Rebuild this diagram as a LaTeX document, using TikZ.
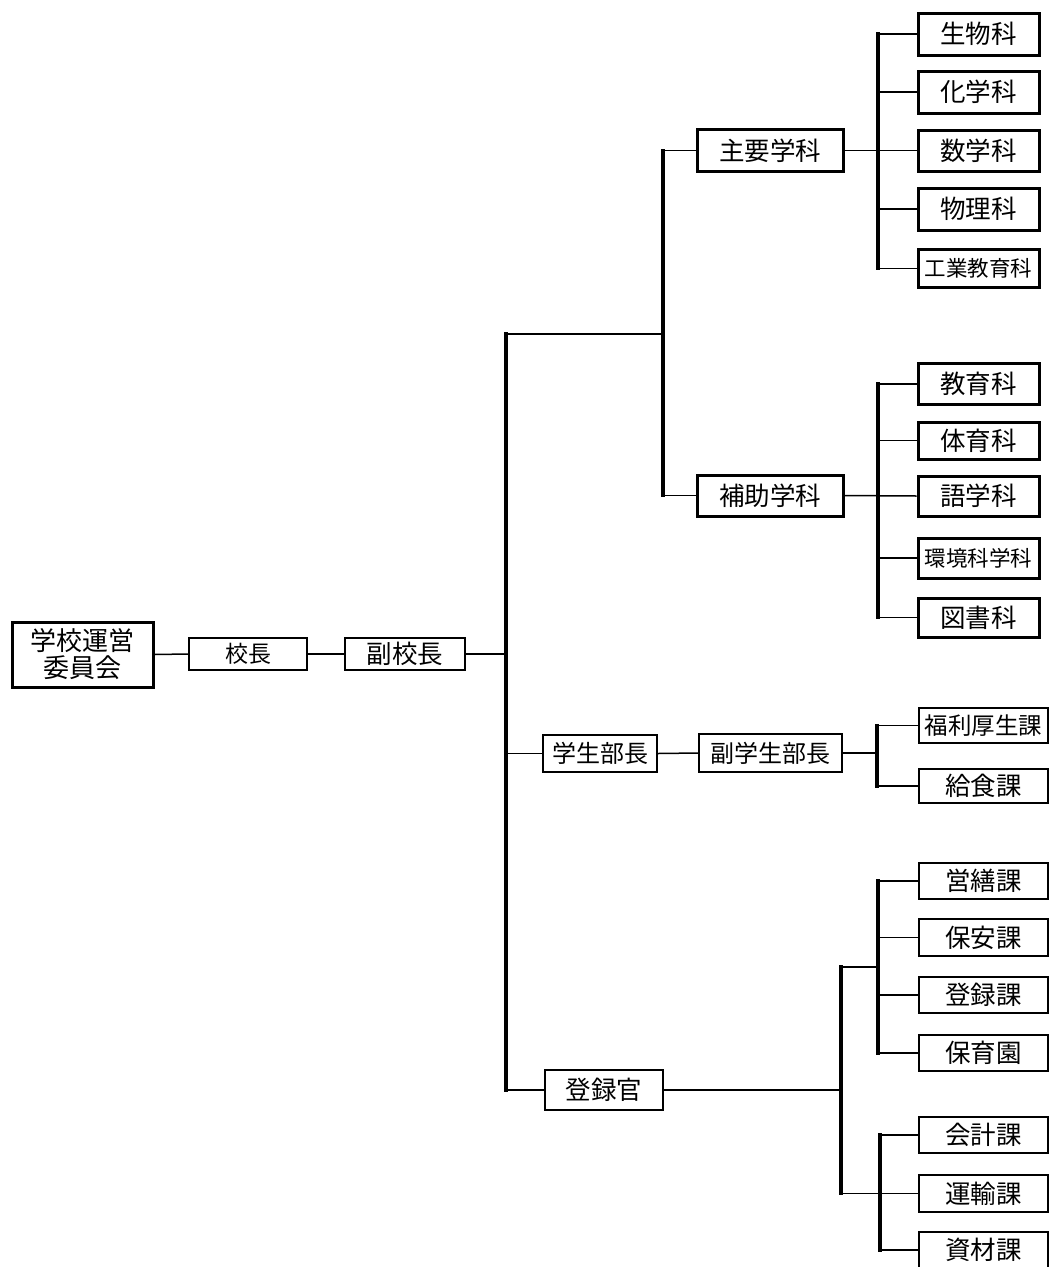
\documentclass[tikz,border=0pt]{standalone}
\usepackage{fontspec}
\newfontfamily\jp{Noto Sans CJK JP}
\begin{document}
\begin{tikzpicture}[x=1pt,y=-1pt,
  basebox/.style={draw=black, fill=white, inner sep=0pt, anchor=center,
    font=\jp\fontsize{25.5}{28}\selectfont, text=black},
  heavybox/.style={basebox, line width=3pt},
  lightbox/.style={basebox, line width=1.9pt},
  subj/.style={heavybox, minimum width=121pt},
  sect/.style={lightbox, minimum width=129pt},
  smalltext/.style={font=\jp\fontsize{21.5}{24}\selectfont},
  link/.style={line width=1.5pt},
  bus/.style={line width=3.4pt, line cap=rect}]
\useasboundingbox (0,0) rectangle (1050,1267);
\clip (0,0) rectangle (1050,1267);
\fill[white] (0,0) rectangle (1050,1267);

% --- left chain ---
\node[heavybox, minimum width=141pt, minimum height=65pt, align=center,
      font=\jp\fontsize{26}{27}\selectfont] (comm) at (82.5,654.5) {学校運営\\委員会};
\node[lightbox, minimum width=118pt, minimum height=32pt, font=\jp\fontsize{23}{26}\selectfont] (kocho) at (248,654) {校長};
\node[lightbox, minimum width=120pt, minimum height=32pt] (fuku) at (405,654) {副校長};

% --- departments ---
\node[heavybox, minimum width=146pt, minimum height=42pt] (shuyo) at (770,150.5) {主要学科};
\node[heavybox, minimum width=146pt, minimum height=41pt] (hojo) at (770,495.5) {補助学科};

% main subjects
\node[subj, minimum height=42pt] (s1) at (978.5,34) {生物科};
\node[subj, minimum height=42pt] (s2) at (978.5,92) {化学科};
\node[subj, minimum height=41pt] (s3) at (978.5,150.5) {数学科};
\node[subj, minimum height=42pt] (s4) at (978.5,209) {物理科};
\node[subj, smalltext, minimum height=38pt] (s5) at (978.5,268.5) {工業教育科};

% auxiliary subjects
\node[subj, minimum height=41pt] (t1) at (978.5,384) {教育科};
\node[subj, minimum height=37pt] (t2) at (978.5,440.5) {体育科};
\node[subj, minimum height=40pt] (t3) at (978.5,496) {語学科};
\node[subj, smalltext, minimum height=40pt] (t4) at (978.5,558) {環境科学科};
\node[subj, minimum height=39pt] (t5) at (978.5,617.5) {図書科};

% student affairs
\node[lightbox, minimum width=114pt, minimum height=37pt, font=\jp\fontsize{24}{26}\selectfont] (gakusei) at (600,753.5) {学生部長};
\node[lightbox, minimum width=143pt, minimum height=38pt, font=\jp\fontsize{24}{26}\selectfont] (fukugakusei) at (770.5,753) {副学生部長};
\node[sect, minimum height=35pt, font=\jp\fontsize{23.5}{26}\selectfont] (welfare) at (983.5,725.5) {福利厚生課};
\node[sect, minimum height=34pt] (kyushoku) at (983.5,786) {給食課};

% registrar
\node[lightbox, minimum width=118pt, minimum height=40pt] (registrar) at (604,1090) {登録官};
\node[sect, minimum height=36pt] (eizen) at (983.5,881) {営繕課};
\node[sect, minimum height=37pt] (hoan) at (983.5,937.5) {保安課};
\node[sect, minimum height=36pt] (touroku) at (983.5,995) {登録課};
\node[sect, minimum height=36pt] (hoiku) at (983.5,1053) {保育園};
\node[sect, minimum height=36pt] (kaikei) at (983.5,1135) {会計課};
\node[sect, minimum height=37pt] (unyu) at (983.5,1193.5) {運輸課};
\node[sect, minimum height=36pt] (shizai) at (983.5,1250) {資材課};

% --- junction coordinates ---
\coordinate (J1) at (506,334);
\coordinate (J2) at (663,334);
\coordinate (VA) at (878,0);
\coordinate (VB) at (877,0);
\coordinate (VR) at (841,967);
\coordinate (VC) at (878,0);
\coordinate (VD) at (880,0);

% --- connectors: left chain ---
\draw[link] (comm.east) -- (kocho.west);
\draw[link] (kocho.east) -- (fuku.west);
\draw[link] (fuku.east) -- (J1 |- fuku.east);

% main trunk
\draw[bus] (J1) -- (J1 |- registrar.west);
\draw[link] (J1) -- (J2);
\draw[bus] (J2 |- shuyo.west) -- (J2 |- hojo.west);
\draw[link] (J2 |- shuyo.west) -- (shuyo.west);
\draw[link] (J2 |- hojo.west) -- (hojo.west);
\draw[link] (J1 |- gakusei.west) -- (gakusei.west);
\draw[link] (J1 |- registrar.west) -- (registrar.west);

% main subjects
\draw[link] (shuyo.east) -- (s3.west);
\draw[bus] (VA |- s1.west) -- (VA |- s5.west);
\foreach \n in {s1,s2,s4,s5} \draw[link] (VA |- \n.west) -- (\n.west);

% auxiliary subjects
\draw[link] (hojo.east) -- (t3.west);
\draw[bus] (VA |- t1.west) -- (VA |- t5.west);
\foreach \n in {t1,t2,t4,t5} \draw[link] (VA |- \n.west) -- (\n.west);

% student affairs
\draw[link] (gakusei.east) -- (fukugakusei.west);
\draw[link] (fukugakusei.east) -- (VB |- fukugakusei.east);
\draw[bus] (VB |- welfare.west) -- (VB |- kyushoku.west);
\draw[link] (VB |- welfare.west) -- (welfare.west);
\draw[link] (VB |- kyushoku.west) -- (kyushoku.west);

% registrar
\draw[link] (registrar.east) -- (VR |- registrar.east);
\draw[bus] (VR) -- (VR |- unyu.west);
\draw[link] (VR) -- (VC |- VR);
\draw[bus] (VC |- eizen.west) -- (VC |- hoiku.west);
\foreach \n in {eizen,hoan,touroku,hoiku} \draw[link] (VC |- \n.west) -- (\n.west);
\draw[link] (VR |- unyu.west) -- (unyu.west);
\draw[bus] (VD |- kaikei.west) -- (VD |- shizai.west);
\draw[link] (VD |- kaikei.west) -- (kaikei.west);
\draw[link] (VD |- shizai.west) -- (shizai.west);
\end{tikzpicture}
\end{document}
